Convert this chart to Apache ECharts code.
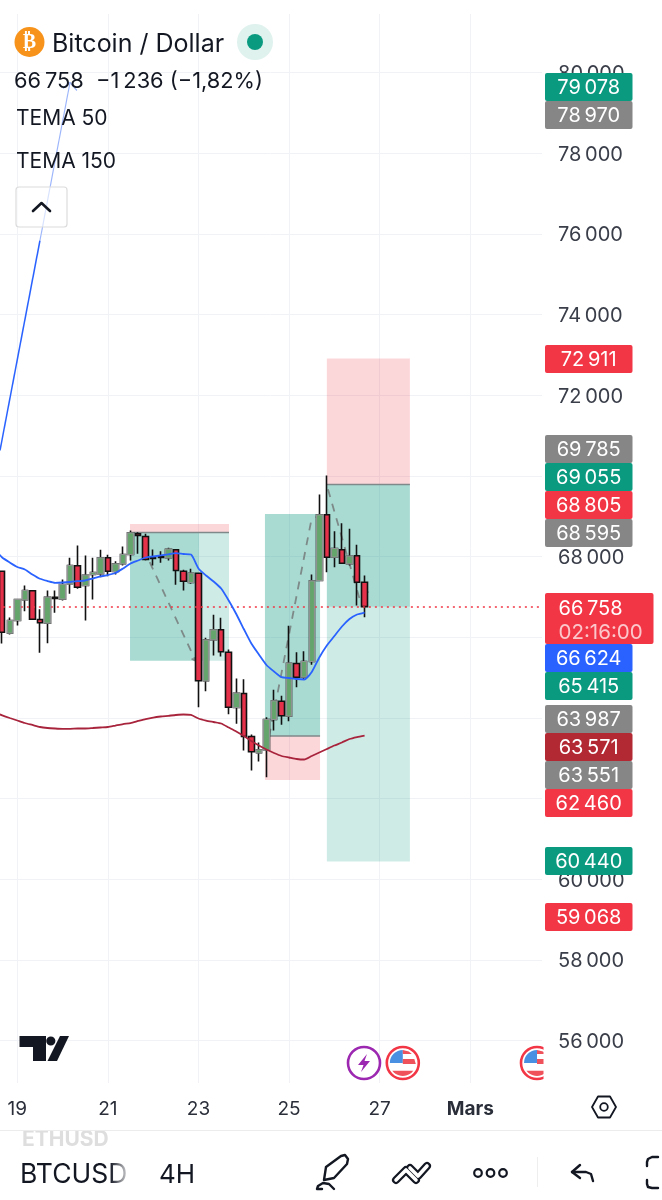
<!DOCTYPE html>
<html>
<head>
<meta charset="utf-8">
<title>BTCUSD 4H</title>
<script src="https://cdn.jsdelivr.net/npm/echarts@6/dist/echarts.min.js"></script>
<style>
  html, body { margin: 0; padding: 0; background: #fff; }
  #chart { width: 662px; height: 1200px; }
</style>
</head>
<body>
<div id="chart"></div>
<script>
// candles, 4h bars
const opens = [67637,66100,66415,66928,67151,66440,66348,66993,66943,67325,67771,67283,67556,67573,67970,67630,67821,68051,68565,68498,67970,68002,67970,68168,67637,67357,67588,64920,65937,66185,65629,64258,64606,63540,63135,63210,63961,64415,64043,65349,65010,65399,67407,69035,67984,68168,67821,68019,67365];
const closes = [66125,66415,66936,67159,66447,66358,66993,66961,67308,67779,67241,67538,67605,67970,67637,67821,68051,68589,68522,67927,67952,67977,68183,67655,67389,67588,64920,65937,66185,65639,64266,64613,63540,63160,63210,63961,64425,64053,65357,65010,65399,67399,69035,67984,68200,67836,68009,67365,66758];
const lows = [65845,66068,66291,66646,66447,65614,65852,66606,66911,67077,67201,66415,66936,67489,67513,67556,67779,67903,68069,67903,67779,67846,67903,67300,67159,67325,64266,64663,65548,65523,64092,63854,63192,62697,62920,62531,63688,63830,63919,64762,64945,65317,67407,67613,67737,67821,67779,66787,66497];
const highs = [67655,66490,66936,67283,67151,66695,67159,67159,67432,67970,68274,68027,67970,68168,68044,67885,68250,68646,68604,68565,68175,68133,68217,68168,67672,67697,67588,65986,66556,66482,65696,64977,64960,63589,63391,64018,64697,64548,66284,65629,65654,67556,69539,70010,68629,68827,68688,68292,67531];

// both averages start one bar before the first candle, just off the left edge
const tema50 = [68175,67977,67853,67741,67679,67556,67449,67394,67350,67357,67370,67389,67407,67456,67506,67543,67593,67704,67828,67903,67977,68002,68027,68056,68084,68064,68051,67704,67531,67382,67208,66911,66576,66204,65845,65572,65312,65151,65010,64990,64965,64953,65139,65498,65795,66031,66266,66452,66564,66613];
const tema150 = [64140,64065,63998,63936,63874,63825,63775,63750,63738,63730,63730,63738,63738,63750,63763,63775,63812,63849,63874,63924,63973,64010,64035,64053,64073,64085,64073,63986,63936,63899,63862,63763,63664,63552,63428,63316,63217,63130,63056,63019,62982,62969,63056,63143,63230,63316,63391,63478,63527,63564];

const barCount = 73;
const lastPrice = 66758;

// x axis: one label every 12 bars
const dayTicks = [2, 14, 26, 38, 50, 62];
const dayLabels = ['19', '21', '23', '25', '27', 'Mars'];
const priceTicks = [56000,58000,60000,62000,64000,66000,68000,70000,72000,74000,76000,78000,80000];

// long/short position tools: [first bar, last bar, upper price, lower price]
const zonesRed = [[16.93,30.04,68805,68595],[34.8,42.1,63551,62460],[43,54,72911,69785]];
const zonesDark = [[16.93,26.07,68595,65415],[34.8,42.1,69055,63551],[43,54,69785,66758]];
const zonesLight = [[26.07,30.04,68595,65415],[43,54,66758,60440]];
const stopLevels = [[16.93,30.04,68595],[34.8,42.1,63551],[43,54,69785]];

// drawings
const dashA = [[18.7,68200],[25.6,65420],[24.5,65520]];
const dashB = [[34.97,63173],[40.9,68861],[42.1,69055]];
const dashC = [[43.15,69667],[47.4,66911],[48.5,67134]];
const arrowLower = [[-0.29,70630],[5,75835]];
const arrowUpper = [[5,75835],[8.98,79752]];
const arrowHead = [[8.05,79603],[8.98,79752],[9.9,79554]];

// price badges
const badgeValues = [79078,78970,72911,69785,69055,68805,68595,66624,65415,63987,63571,63551,62460,60440,59068];
const badgeColors = ['#0a9a80','#868686','#f23645','#868686','#0a9a80','#f23645','#868686','#2962ff','#0a9a80','#868686','#b22833','#868686','#f23645','#0a9a80','#f23645'];
const badgeTops = [73,101,345,435,463,491,519,644,672,705,733,761,789,847,903];

const FONT = 'Inter, "Noto Sans", sans-serif';
const INK = '#131722';
const fmt = v => String(v).replace(/\B(?=(\d{3})+$)/g, '\u202f');
const categories = Array.from({length: barCount}, (_, i) => 'bar ' + i);

const candleData = ['-', ...opens.map((o, i) => [o, closes[i], lows[i], highs[i]])];
// green bodies get a grey outline on top of the black wicks
const greenBodies = ['-', ...opens.map((o, i) => closes[i] >= o ? [o, closes[i], o, closes[i]] : '-')];

function zoneSeries(data, color) {
  return {
    type: 'custom',
    xAxisIndex: 1,
    z: 1,
    silent: true,
    clip: true,
    data: data,
    renderItem: (params, api) => {
      const a = api.coord([api.value(0), api.value(2)]);
      const b = api.coord([api.value(1), api.value(3)]);
      return {type: 'rect', shape: {x: a[0], y: a[1], width: b[0] - a[0], height: b[1] - a[1]}, style: {fill: color}};
    }
  };
}

function pathSeries(data, color, width, z, dashed) {
  return {
    type: 'line',
    xAxisIndex: 1,
    data: data,
    z: z,
    silent: true,
    showSymbol: false,
    symbol: 'none',
    lineStyle: {color: color, width: width, type: dashed ? [8, 7] : 'solid'}
  };
}

// graphic helpers
const line = (points, w, color, z) => ({type: 'polyline', z: z || 60, shape: {points}, style: {fill: 'none', stroke: color || INK, lineWidth: w || 2.4, lineCap: 'round', lineJoin: 'round'}});
const poly = (points, fill, z) => ({type: 'polygon', z: z || 60, shape: {points}, style: {fill}});
const label = (x, y, text, size, extra) => ({type: 'text', z: 60, x, y, style: Object.assign({text, fill: INK, font: `${size}px ${FONT}`, verticalAlign: 'middle'}, extra || {})});
const ring = (cx, cy, r, w, color, fill) => ({type: 'circle', z: 60, shape: {cx, cy, r}, style: {fill: fill || 'none', stroke: color, lineWidth: w}});

function flagIcon(cx, cy) {
  const r = 13;
  const bottom = [];
  for (let a = 0.2; a <= 0.8001; a += 0.05) bottom.push([cx + r * Math.cos(a * Math.PI), cy + r * Math.sin(a * Math.PI)]);
  return [
    {type: 'circle', z: 50, shape: {cx, cy, r: 16}, style: {fill: '#fff', stroke: '#f23645', lineWidth: 2.6}},
    {type: 'sector', z: 51, shape: {cx, cy, r, startAngle: Math.PI, endAngle: Math.PI * 1.5}, style: {fill: '#4a90e2'}},
    poly([[cx, cy - r], [cx + 6, cy - r + 1.4], [cx + 9, cy - r + 4], [cx, cy - r + 4]], '#f0525c', 51),
    poly([[cx, cy - 4], [cx + 11.5, cy - 4], [cx + r, cy + 1], [cx, cy + 1]], '#f0525c', 51),
    poly(bottom, '#f0525c', 51)
  ];
}

const badges = [];
badgeValues.forEach((v, i) => {
  badges.push({type: 'rect', z: 40, shape: {x: 545, y: badgeTops[i], width: 87.5, height: 28, r: 2}, style: {fill: badgeColors[i]}});
  badges.push(label(588.7, badgeTops[i] + 15, fmt(v), 20, {fill: '#fff', align: 'center'}));
});
// last price badge with countdown
badges.push({type: 'rect', z: 41, shape: {x: 545, y: 593, width: 108.5, height: 51, r: 2}, style: {fill: '#f23645'}});
badges.push(label(558.5, 608.5, fmt(lastPrice), 20, {fill: '#fff'}));
badges.push(label(558.5, 632.5, '02:16:00', 20.5, {fill: 'rgba(255,255,255,0.72)'}));

const header = [
  {type: 'circle', z: 60, shape: {cx: 29.5, cy: 42, r: 15}, style: {fill: '#f7931a'}},
  label(29.5, 42.5, '\u20bf', 20, {fill: '#fff', align: 'center', font: 'bold 20px "DejaVu Sans"'}),
  label(52, 44.5, 'Bitcoin / Dollar', 25),
  {type: 'circle', z: 60, shape: {cx: 255, cy: 42, r: 18}, style: {fill: '#dff2ee'}},
  {type: 'circle', z: 61, shape: {cx: 255, cy: 42, r: 8}, style: {fill: '#0a9a80'}},
  label(14, 81.5, fmt(lastPrice) + '  \u2212' + fmt(1236) + ' (\u22121,82%)', 21.8),
  label(16, 118.5, 'TEMA 50', 21),
  label(16, 161.5, 'TEMA 150', 21),
  {type: 'rect', z: 60, shape: {x: 16, y: 187, width: 51, height: 40, r: 3}, style: {fill: 'rgba(255,255,255,0.6)', stroke: '#dcdcdc', lineWidth: 1.2}},
  Object.assign(line([[33, 211], [41.5, 203], [50, 211]], 2.6), {z: 61})
];

const logo = [
  poly([[19.5, 1036], [46, 1036], [46, 1061], [33, 1061], [33, 1047], [19.5, 1047]], INK),
  poly([[60, 1036], [69, 1036], [57, 1061], [47.5, 1061]], INK),
  {type: 'circle', z: 60, shape: {cx: 50.8, cy: 1041, r: 4.6}, style: {fill: INK}}
];

const events = [
  {type: 'circle', z: 50, shape: {cx: 364, cy: 1063, r: 16}, style: {fill: '#fff', stroke: '#9c27b0', lineWidth: 2.6}},
  poly([[367, 1054], [358, 1065], [363.5, 1065], [361, 1072], [370, 1061], [364.5, 1061]], '#9c27b0', 51),
  ...flagIcon(402.8, 1063),
  ...flagIcon(537, 1063),
  {type: 'rect', z: 52, shape: {x: 543.5, y: 1040, width: 12, height: 46}, style: {fill: '#fff'}}
];

const toolbar = [
  {type: 'rect', z: 55, shape: {x: 0, y: 1130, width: 662, height: 1}, style: {fill: '#ececec'}},
  line([[592, 1107], [598, 1096.5], [610, 1096.5], [616, 1107], [610, 1117.5], [598, 1117.5], [592, 1107]], 1.8),
  ring(604, 1107, 3.8, 1.8, INK),
  // ETHUSD only shows its lower part under the axis bar
  {type: 'text', z: 53, x: 22, y: 1140, style: {text: 'ETHUSD', fill: '#dedede', font: `bold 21px ${FONT}`, verticalAlign: 'middle'}},
  {type: 'rect', z: 54, shape: {x: 0, y: 1122, width: 150, height: 8.5}, style: {fill: '#fff'}},
  label(20, 1175.5, 'BTCUSD', 26.5),
  {type: 'rect', z: 61, shape: {x: 110, y: 1131, width: 22, height: 59}, style: {fill: new echarts.graphic.LinearGradient(0, 0, 1, 0, [{offset: 0, color: 'rgba(255,255,255,0)'}, {offset: 1, color: '#fff'}])}},
  label(159, 1175.5, '4H', 26),
  // pen
  line([[326, 1167], [341, 1156], [345, 1155], [348, 1159], [347, 1164], [334, 1178], [324, 1180], [326, 1167]]),
  line([[334, 1189], [329, 1184], [323, 1183], [318, 1186], [317, 1189], [322, 1189]]),
  // double chevrons
  line([[396, 1180], [406, 1170], [416, 1180]], 8),
  line([[410, 1168], [418, 1176], [427, 1166]], 8),
  Object.assign(line([[396, 1180], [406, 1170], [416, 1180]], 3.6, '#fff'), {z: 61}),
  Object.assign(line([[410, 1168], [418, 1176], [427, 1166]], 3.6, '#fff'), {z: 61}),
  ring(478, 1173, 3.8, 2.2, INK),
  ring(490.5, 1173, 3.8, 2.2, INK),
  ring(503, 1173, 3.8, 2.2, INK),
  {type: 'rect', z: 60, shape: {x: 537, y: 1157, width: 1, height: 30}, style: {fill: '#eeeeee'}},
  // undo
  line([[580, 1165], [572, 1172], [580, 1178]]),
  line([[572, 1172], [586, 1172], [591, 1174], [593, 1181]]),
  // fullscreen corner, cut by the screen edge
  line([[658, 1157], [652, 1157], [648, 1159], [647, 1162], [647, 1166]]),
  line([[647, 1180], [647, 1184], [648, 1187], [652, 1188], [658, 1188]])
];

const option = {
  backgroundColor: '#fff',
  animation: false,
  grid: [
    {left: -9.125, top: 14, width: 551.15, height: 1069, outerBoundsMode: 'none'},
    // same scale 1.5px lower, only carries the price labels so they sit centred on the grid lines
    {left: -9.125, top: 15.5, width: 551.15, height: 1069, outerBoundsMode: 'none'}
  ],
  xAxis: [
    {type: 'category', data: categories, show: false, boundaryGap: true},
    {
      type: 'value',
      min: -1.5,
      max: 71.5,
      position: 'bottom',
      axisLine: {show: false},
      axisTick: {show: false, customValues: dayTicks},
      splitLine: {show: true, lineStyle: {color: '#f0f2f5', width: 1}},
      axisLabel: {
        customValues: dayTicks,
        margin: 16.5,
        fontFamily: FONT,
        fontSize: 19,
        color: '#2a2e39',
        hideOverlap: false,
        formatter: v => {
          const text = dayLabels[dayTicks.indexOf(v)] || '';
          return text === 'Mars' ? '{b|Mars}' : text;
        },
        rich: {b: {fontFamily: FONT, fontSize: 19, fontWeight: 'bold', color: '#2a2e39'}}
      }
    },
    {type: 'value', gridIndex: 1, min: -1.5, max: 71.5, show: false}
  ],
  yAxis: [
    {
      type: 'value',
      position: 'right',
      min: 54950,
      max: 81450,
      axisLine: {show: false},
      axisTick: {show: false, customValues: priceTicks},
      splitLine: {show: true, lineStyle: {color: '#f0f2f5', width: 1}},
      axisLabel: {show: false}
    },
    {
      type: 'value',
      gridIndex: 1,
      position: 'right',
      min: 54950,
      max: 81450,
      axisLine: {show: false},
      axisTick: {show: false, customValues: priceTicks},
      splitLine: {show: false},
      axisLabel: {
        customValues: priceTicks,
        margin: 16,
        align: 'left',
        fontFamily: FONT,
        fontSize: 20,
        color: '#3a3e49',
        formatter: v => fmt(v)
      }
    }
  ],
  series: [
    zoneSeries(zonesRed, 'rgba(242,54,69,0.2)'),
    zoneSeries(zonesDark, 'rgba(8,153,129,0.35)'),
    zoneSeries(zonesLight, 'rgba(8,153,129,0.2)'),
    ...stopLevels.map(s => pathSeries([[s[0], s[2]], [s[1], s[2]]], '#80898a', 1.6, 2)),
    pathSeries(dashA, '#7d8a88', 1.8, 3, true),
    pathSeries(dashB, '#7d8a88', 1.8, 3, true),
    pathSeries(dashC, '#7d8a88', 1.8, 3, true),
    pathSeries(arrowLower, '#2962ff', 1.5, 3),
    pathSeries(arrowUpper, '#9db6fb', 1.2, 3),
    pathSeries(arrowHead, '#9db6fb', 1.2, 3),
    {
      type: 'candlestick',
      data: candleData,
      barWidth: 6,
      z: 4,
      silent: true,
      itemStyle: {color: '#6ba26f', color0: '#e5324a', borderColor: '#111', borderColor0: '#111', borderWidth: 1.6},
      markLine: {
        silent: true,
        symbol: 'none',
        label: {show: false},
        lineStyle: {color: '#f23645', type: [2, 4], width: 1.5},
        data: [{yAxis: lastPrice}]
      }
    },
    {
      type: 'candlestick',
      data: greenBodies,
      barWidth: 6,
      z: 5,
      silent: true,
      itemStyle: {color: '#64a56c', color0: '#64a56c', borderColor: '#8f9492', borderColor0: '#8f9492', borderWidth: 1.2}
    },
    {type: 'line', data: tema50, smooth: 0.2, z: 6, silent: true, showSymbol: false, lineStyle: {color: '#2962ff', width: 1.8}},
    {type: 'line', data: tema150, smooth: 0.2, z: 6, silent: true, showSymbol: false, lineStyle: {color: '#a8243c', width: 1.8}}
  ],
  graphic: {elements: [...badges, ...header, ...logo, ...events, ...toolbar]}
};

const myChart = echarts.init(document.getElementById('chart'));
myChart.setOption(option);
</script>
</body>
</html>
